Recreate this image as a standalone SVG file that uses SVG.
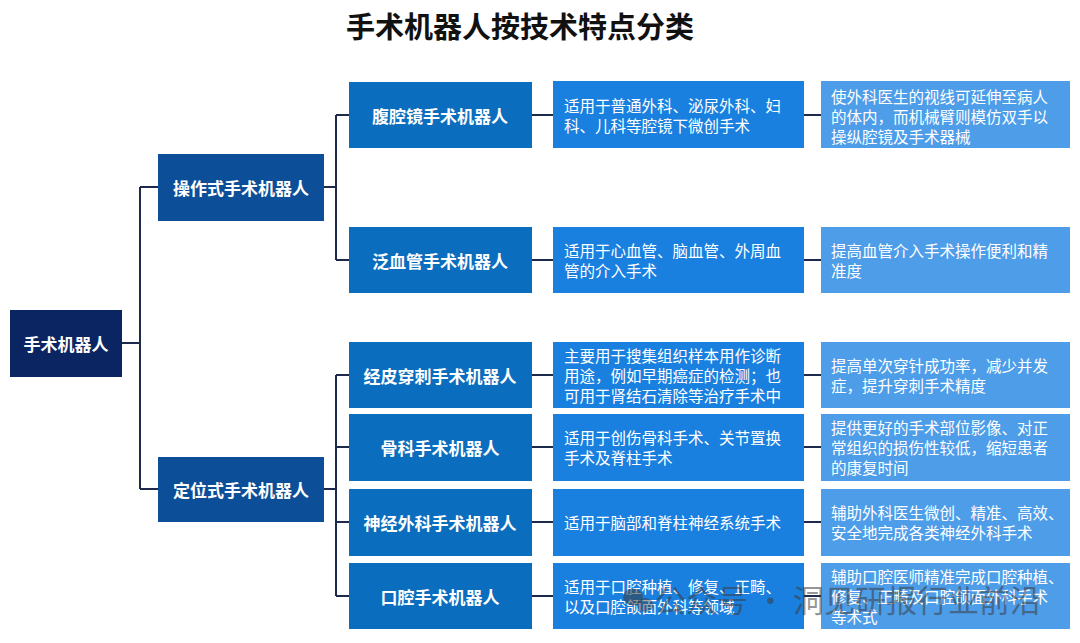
<svg xmlns="http://www.w3.org/2000/svg" width="1080" height="643" viewBox="0 0 1080 643">
<style>
  text { font-family: "Noto Sans CJK SC", "Noto Sans", sans-serif; }
  .title { font-size: 29px; font-weight: bold; fill: #111; }
  .lbl { font-size: 17px; font-weight: bold; fill: #fff; text-anchor: middle; dominant-baseline: central; }
  .body { font-size: 15.5px; fill: #fff; dominant-baseline: central; }
  .root { fill: #0b2563; }
  .l2 { fill: #0d4e98; }
  .l3 { fill: #0b6dbd; }
  .c3 { fill: #1a80e0; }
  .c4 { fill: #4e9de9; }
  .conn { fill: none; stroke: #1d2a4c; stroke-width: 2; }
  .wm { font-size: 31px; fill: #3a3a3a; fill-opacity: 0.55; }
</style>
<rect width="1080" height="643" fill="#fff"/>
<text class="title" x="520" y="38" text-anchor="middle">手术机器人按技术特点分类</text>

<g id="connectors">
  <path class="conn" d="M122 343 H140 M140 187 V489 M140 187 H158 M140 489 H158"/>
  <path class="conn" d="M324 187 H336 M336 115 V260 M336 115 H349 M336 260 H349"/>
  <path class="conn" d="M324 489 H336 M336 375 V596 M336 375 H349 M336 447 H349 M336 522 H349 M336 596 H349"/>
  <path class="conn" d="M532 115 H553 M532 260 H553 M532 375 H553 M532 447 H553 M532 522 H553 M532 596 H553"/>
  <path class="conn" d="M804 115 H821 M804 260 H821 M804 375 H821 M804 447 H821 M804 522 H821 M804 596 H821"/>
</g>

<g id="root">
  <rect class="root" x="10" y="310" width="112" height="67"/>
  <text class="lbl" x="66" y="343">手术机器人</text>
</g>

<g id="n-caozuo">
  <rect class="l2" x="158" y="154" width="166" height="67"/>
  <text class="lbl" x="241" y="187">操作式手术机器人</text>
</g>
<g id="n-dingwei">
  <rect class="l2" x="158" y="457" width="166" height="65"/>
  <text class="lbl" x="241" y="489">定位式手术机器人</text>
</g>

<g id="n-fuqiangjing">
  <rect class="l3" x="349" y="82" width="183" height="66"/>
  <text class="lbl" x="440" y="115">腹腔镜手术机器人</text>
</g>
<g id="n-fanxueguan">
  <rect class="l3" x="349" y="227" width="183" height="66"/>
  <text class="lbl" x="440" y="260">泛血管手术机器人</text>
</g>
<g id="n-jingpi">
  <rect class="l3" x="349" y="342" width="183" height="66"/>
  <text class="lbl" x="440" y="375">经皮穿刺手术机器人</text>
</g>
<g id="n-guke">
  <rect class="l3" x="349" y="414" width="183" height="67"/>
  <text class="lbl" x="440" y="447">骨科手术机器人</text>
</g>
<g id="n-shenjing">
  <rect class="l3" x="349" y="489" width="183" height="67"/>
  <text class="lbl" x="440" y="522">神经外科手术机器人</text>
</g>
<g id="n-kouqiang">
  <rect class="l3" x="349" y="563" width="183" height="66"/>
  <text class="lbl" x="440" y="596">口腔手术机器人</text>
</g>

<g id="a-fuqiangjing">
  <rect class="c3" x="553" y="81" width="251" height="67"/>
  <text class="body" x="564" y="105">适用于普通外科、泌尿外科、妇</text>
  <text class="body" x="564" y="125">科、儿科等腔镜下微创手术</text>
</g>
<g id="b-fuqiangjing">
  <rect class="c4" x="821" y="81" width="249" height="67"/>
  <text class="body" x="831" y="96">使外科医生的视线可延伸至病人</text>
  <text class="body" x="831" y="116">的体内，而机械臂则模仿双手以</text>
  <text class="body" x="831" y="136">操纵腔镜及手术器械</text>
</g>

<g id="a-fanxueguan">
  <rect class="c3" x="553" y="227" width="251" height="66"/>
  <text class="body" x="564" y="250">适用于心血管、脑血管、外周血</text>
  <text class="body" x="564" y="270">管的介入手术</text>
</g>
<g id="b-fanxueguan">
  <rect class="c4" x="821" y="227" width="249" height="66"/>
  <text class="body" x="831" y="250">提高血管介入手术操作便利和精</text>
  <text class="body" x="831" y="270">准度</text>
</g>

<g id="a-jingpi">
  <rect class="c3" x="553" y="342" width="251" height="66"/>
  <text class="body" x="564" y="355">主要用于搜集组织样本用作诊断</text>
  <text class="body" x="564" y="375">用途，例如早期癌症的检测；也</text>
  <text class="body" x="564" y="395">可用于肾结石清除等治疗手术中</text>
</g>
<g id="b-jingpi">
  <rect class="c4" x="821" y="342" width="249" height="66"/>
  <text class="body" x="831" y="365">提高单次穿针成功率，减少并发</text>
  <text class="body" x="831" y="385">症，提升穿刺手术精度</text>
</g>

<g id="a-guke">
  <rect class="c3" x="553" y="414" width="251" height="67"/>
  <text class="body" x="564" y="437">适用于创伤骨科手术、关节置换</text>
  <text class="body" x="564" y="457">手术及脊柱手术</text>
</g>
<g id="b-guke">
  <rect class="c4" x="821" y="414" width="249" height="67"/>
  <text class="body" x="831" y="427">提供更好的手术部位影像、对正</text>
  <text class="body" x="831" y="447">常组织的损伤性较低，缩短患者</text>
  <text class="body" x="831" y="467">的康复时间</text>
</g>

<g id="a-shenjing">
  <rect class="c3" x="553" y="489" width="251" height="67"/>
  <text class="body" x="564" y="522">适用于脑部和脊柱神经系统手术</text>
</g>
<g id="b-shenjing">
  <rect class="c4" x="821" y="489" width="249" height="67"/>
  <text class="body" x="831" y="512">辅助外科医生微创、精准、高效、</text>
  <text class="body" x="831" y="532">安全地完成各类神经外科手术</text>
</g>

<g id="a-kouqiang">
  <rect class="c3" x="553" y="563" width="251" height="66"/>
  <text class="body" x="564" y="586">适用于口腔种植、修复、正畸、</text>
  <text class="body" x="564" y="606">以及口腔颌面外科等领域</text>
</g>
<g id="b-kouqiang">
  <rect class="c4" x="821" y="563" width="249" height="66"/>
  <text class="body" x="831" y="576">辅助口腔医师精准完成口腔种植、</text>
  <text class="body" x="831" y="596">修复、正畸及口腔颌面外科手术</text>
  <text class="body" x="831" y="616">等术式</text>
</g>

<g id="watermark">
  <ellipse cx="633" cy="597" rx="10" ry="8.5" fill="#3a3a3a" fill-opacity="0.55"/>
  <ellipse cx="645" cy="605" rx="8.5" ry="7" fill="#3a3a3a" fill-opacity="0.45"/>
  <text class="wm" x="655" y="612">公众号 · 洞见研报行业前沿</text>
</g>
</svg>
